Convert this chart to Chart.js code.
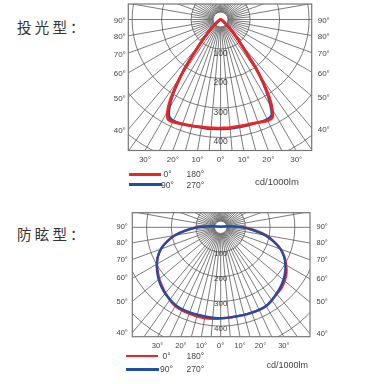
<!DOCTYPE html>
<html><head><meta charset="utf-8">
<script src="https://cdn.jsdelivr.net/npm/chart.js@4/dist/chart.umd.min.js"></script>
<style>
body{margin:0;background:#fff;width:392px;height:384px;position:relative;overflow:hidden;font-family:"Liberation Sans",Arial,sans-serif;}
canvas{position:absolute;left:0;}
.title{position:absolute;left:17px;font-family:"Noto Sans CJK SC",sans-serif;font-size:14.5px;letter-spacing:3.2px;color:#333;line-height:14.5px;white-space:nowrap;}
.t{position:absolute;color:#444;white-space:nowrap;line-height:10px;}
.sw{position:absolute;height:2.5px;}
</style></head><body>
<div class="title" style="top:19.5px">投光型：</div>
<div class="title" style="top:227px">防眩型：</div>
<canvas id="c1" width="392" height="170" style="top:0px"></canvas>
<canvas id="c2" width="392" height="156" style="top:200px"></canvas>

<div class="sw" style="left:129px;top:173px;width:32px;background:#ee2424"></div>
<div class="sw" style="left:129px;top:183px;width:33px;background:#1f4ea6"></div>
<div class="t" style="left:160px;width:15px;text-align:center;top:169px;font-size:8.5px">0°</div>
<div class="t" style="left:160px;width:15px;text-align:center;top:180px;font-size:8.5px">90°</div>
<div class="t" style="left:186.5px;top:169px;font-size:8.5px">180°</div>
<div class="t" style="left:186.5px;top:180px;font-size:8.5px">270°</div>
<div class="t" style="left:255px;top:177px;font-size:9.5px">cd/1000lm</div>

<div class="sw" style="left:126px;top:354.5px;width:32px;background:#ee2424"></div>
<div class="sw" style="left:126px;top:368px;width:33px;background:#1f4ea6"></div>
<div class="t" style="left:159px;width:15px;text-align:center;top:350.5px;font-size:8.5px">0°</div>
<div class="t" style="left:159px;width:15px;text-align:center;top:364px;font-size:8.5px">90°</div>
<div class="t" style="left:186.5px;top:350.5px;font-size:8.5px">180°</div>
<div class="t" style="left:186.5px;top:364px;font-size:8.5px">270°</div>
<div class="t" style="left:266.5px;top:359.5px;font-size:9px">cd/1000lm</div>

<script>
// ---------------- data ----------------
const CIRCLE_VALUES = [100, 200, 300, 400, 500, 600];
const RING_LABELS = [100, 200, 300, 400];
const SIDE_ANGLES = [90, 80, 70, 60, 50, 40];
const BOTTOM_ANGLES = [-30, -20, -10, 0, 10, 20, 30];

// 投光型 (floodlight) – angle from nadir (deg) and intensity (cd/1000lm)
const FLOOD_ANGLES = [0, 5, 10, 15, 20, 25, 28, 30, 32, 34, 36, 38, 40, 42, 45, 50, 60, 70, 80, 90];
const FLOOD_C0   = [368, 368, 367, 368, 371, 378, 375, 350, 312, 260, 200, 135, 100, 78, 50, 22, 7, 3, 1, 0];
const FLOOD_C180 = [368, 369, 370, 373, 377, 383, 381, 360, 322, 268, 210, 150, 108, 80, 50, 22, 7, 3, 1, 0];
const FLOOD_C90  = [371, 371, 370, 370, 372, 374, 368, 340, 302, 255, 204, 140, 104, 80, 52, 23, 7, 3, 1, 0];
const FLOOD_C270 = [371, 372, 372, 374, 377, 379, 372, 348, 312, 262, 214, 155, 113, 84, 53, 23, 7, 3, 1, 0];

// 防眩型 (anti-glare)
const GLARE_ANGLES = [0, 5, 10, 15, 20, 25, 30, 35, 40, 45, 50, 55, 60, 65, 70, 75, 80, 85, 90, 95, 100, 110, 120, 150, 180];
const GLARE_C0   = [368, 367, 366, 367, 368, 369, 368, 361, 353, 348, 338, 325, 306, 285, 258, 223, 188, 140, 92, 45, 20, 8, 4, 2, 2];
const GLARE_C180 = [369, 372, 373, 373, 372, 371, 368, 359, 348, 336, 325, 311, 298, 280, 258, 226, 190, 142, 96, 48, 22, 8, 4, 2, 2];
const GLARE_C90  = [368, 367, 366, 367, 368, 369, 368, 360, 351, 342, 331, 318, 302, 283, 258, 221, 180, 130, 88, 45, 20, 8, 4, 2, 2];
const GLARE_C270 = [368, 367, 366, 366, 366, 366, 364, 357, 350, 340, 328, 314, 299, 281, 258, 225, 188, 140, 95, 48, 22, 8, 4, 2, 2];

// ------------- helpers -------------
const RAD = Math.PI / 180;
function curve(angles, right, left) {
  const pts = [];
  for (let i = angles.length - 1; i >= 0; i--) {
    const t = angles[i] * RAD;
    pts.push({ x: -left[i] * Math.sin(t), y: -left[i] * Math.cos(t) });
  }
  for (let i = 0; i < angles.length; i++) {
    const t = angles[i] * RAD;
    pts.push({ x: right[i] * Math.sin(t), y: -right[i] * Math.cos(t) });
  }
  return pts;
}

const polarGrid = {
  id: 'polarGrid',
  beforeDatasetsDraw(chart, args, o) {
    const { ctx, chartArea: a, scales: { x, y } } = chart;
    const cx = x.getPixelForValue(0), cy = y.getPixelForValue(0);
    const k = (x.getPixelForValue(100) - cx) / 100;
    ctx.save();
    ctx.beginPath();
    ctx.rect(a.left, a.top, a.right - a.left, a.bottom - a.top);
    ctx.clip();
    ctx.strokeStyle = o.gridColor;
    ctx.lineWidth = o.gridWidth;
    for (const r of CIRCLE_VALUES) {
      ctx.beginPath(); ctx.arc(cx, cy, r * k, 0, 2 * Math.PI); ctx.stroke();
    }
    const far = 3000 * k;
    for (let d = 0; d < 360; d += 5) {
      const t = d * RAD;
      const dn = Math.min(d, 360 - d);
      const r1 = o.inner * k;
      const r2 = (d % 10 === 0 || dn <= 35) ? far : o.sun * k;
      ctx.beginPath();
      ctx.moveTo(cx + Math.sin(t) * r1, cy + Math.cos(t) * r1);
      ctx.lineTo(cx + Math.sin(t) * r2, cy + Math.cos(t) * r2);
      ctx.stroke();
    }
    ctx.beginPath(); ctx.arc(cx, cy, o.inner * k, 0, 2 * Math.PI);
    ctx.fillStyle = '#fff'; ctx.fill(); ctx.stroke();
    ctx.fillStyle = '#444';
    ctx.font = o.labelFont + 'px "Liberation Sans", Arial, sans-serif';
    ctx.textAlign = 'center'; ctx.textBaseline = 'middle';
    for (const r of RING_LABELS) ctx.fillText(String(r), cx, cy + r * k + o.labelDy);
    ctx.restore();
    ctx.save();
    ctx.strokeStyle = '#777'; ctx.lineWidth = 1.2;
    ctx.strokeRect(a.left, a.top, a.right - a.left, a.bottom - a.top);
    ctx.restore();
  }
};

function sideAxis(position, halfW, g, pad) {
  return {
    type: 'linear', axis: 'y', position, min: g.ymin, max: g.ymax, bounds: 'data',
    grid: { display: false, drawTicks: false, tickLength: 0 }, border: { display: false },
    afterBuildTicks: s => { s.ticks = SIDE_ANGLES.map(a => ({ value: -halfW / Math.tan(a * RAD) })); },
    ticks: { autoSkip: false, padding: pad, color: '#444', labelOffset: g.labelOffset,
             font: { size: g.angleFont, family: '"Liberation Sans", Arial, sans-serif' },
             callback: (v, i) => SIDE_ANGLES[i] + '°' },
    afterFit: s => { s.width = position === 'left' ? g.left : g.W - g.right; s.paddingTop = 0; s.paddingBottom = 0; }
  };
}

function makeChart(id, g, datasets) {
  const lineDepth = -g.ymin;
  return new Chart(document.getElementById(id), {
    type: 'scatter',
    data: { datasets },
    options: {
      responsive: false, animation: false, devicePixelRatio: 1,
      layout: { padding: { top: g.top, left: 0, right: 0, bottom: 0 } },
      plugins: { legend: { display: false }, tooltip: { enabled: false },
                 polarGrid: { gridColor: '#5a5a5a', gridWidth: 0.8, inner: 25, sun: 100,
                              labelFont: g.ringFont, labelDy: g.labelDy } },
      elements: { point: { radius: 0 } },
      scales: {
        x: {
          type: 'linear', position: 'bottom', min: g.xmin, max: g.xmax, bounds: 'data',
          grid: { display: false, drawTicks: false, tickLength: 0 }, border: { display: false },
          afterBuildTicks: s => { s.ticks = BOTTOM_ANGLES.map(a => ({ value: Math.sign(a) * lineDepth * Math.tan(Math.abs(a) * RAD) })); },
          ticks: { autoSkip: false, maxRotation: 0, minRotation: 0, padding: g.bottomPad, color: '#444',
                   font: { size: g.angleFont, family: '"Liberation Sans", Arial, sans-serif' },
                   callback: (v, i) => Math.abs(BOTTOM_ANGLES[i]) + '°' },
          afterFit: s => { s.height = g.H - g.bottom; s.paddingLeft = 0; s.paddingRight = 0; }
        },
        y: sideAxis('left', -g.xmin, g, g.leftPad),
        y2: sideAxis('right', g.xmax, g, g.rightPad)
      }
    },
    plugins: [polarGrid]
  });
}

function ds(data, color, width) {
  return { data, showLine: true, borderColor: color, borderWidth: width, tension: 0.3,
           borderCapStyle: 'round', borderJoinStyle: 'round', fill: false, pointRadius: 0 };
}

const RED = '#ee2424', BLUE = '#1f4ea6';

// chart 1 geometry (canvas px) : frame 128.3..311.7 x 4..150.5, centre (220.6,19.5), 0.295 px/cd
const g1 = { W: 392, H: 170, left: 128.3, right: 311.7, top: 4, bottom: 150.5,
  xmin: (128.3 - 220.6) / 0.295, xmax: (311.7 - 220.6) / 0.295,
  ymin: -(150.5 - 19.5) / 0.295, ymax: (19.5 - 4) / 0.295,
  angleFont: 8, ringFont: 8.5, labelDy: 4.3, labelOffset: 1.5, leftPad: 2.5, rightPad: 6, bottomPad: 4.5 };
// first dataset is painted on top
makeChart('c1', g1, [
  ds(curve(FLOOD_ANGLES, FLOOD_C0, FLOOD_C180), RED, 2.8),
  ds(curve(FLOOD_ANGLES, FLOOD_C90, FLOOD_C270), BLUE, 2.6)
]);

// chart 2 geometry (canvas top = 200): frame 132.3..310 x 12.7..136.7, centre (220.7,27.3), 0.247 px/cd
const g2 = { W: 392, H: 156, left: 132.3, right: 310, top: 12.7, bottom: 136.7,
  xmin: (132.3 - 220.7) / 0.247, xmax: (310 - 220.7) / 0.247,
  ymin: -(136.7 - 27.3) / 0.247, ymax: (27.3 - 12.7) / 0.247,
  angleFont: 7.5, ringFont: 8, labelDy: 2.2, labelOffset: 0, leftPad: 4.5, rightPad: 6.5, bottomPad: 4.5 };
makeChart('c2', g2, [
  ds(curve(GLARE_ANGLES, GLARE_C90, GLARE_C270), BLUE, 2.3),
  ds(curve(GLARE_ANGLES, GLARE_C0, GLARE_C180), RED, 2.4)
]);
</script>
</body></html>
